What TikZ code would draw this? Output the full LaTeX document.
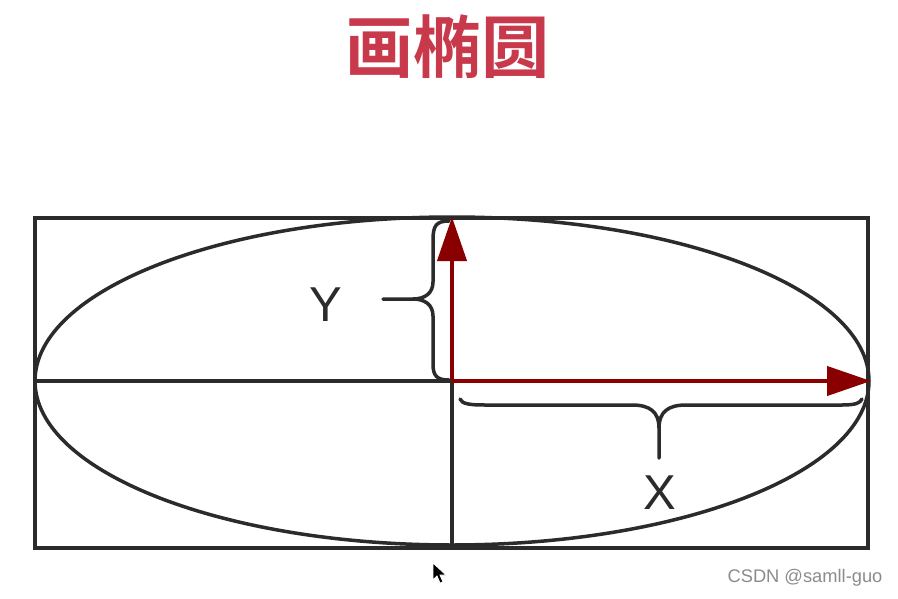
\documentclass[tikz,border=0pt]{standalone}
\usepackage{fontspec}
\setmainfont{Liberation Sans}
\newfontfamily\cjk{Noto Sans CJK SC Bold}
\usetikzlibrary{arrows.meta,positioning}
\definecolor{darkline}{HTML}{2B2B2B}
\definecolor{axisred}{HTML}{8A0000}
\definecolor{titlered}{HTML}{C83A4B}
\definecolor{markgray}{HTML}{8C8C8C}
\begin{document}
\begin{tikzpicture}[x=1pt,y=-1pt,
		frame/.style={darkline,line width=4.2pt},
		curve/.style={darkline,line width=3.5pt},
		brace/.style={darkline,line width=3.5pt,line cap=round},
		axis/.style={axisred,line width=4.2pt,-{Triangle[length=44pt,width=29pt]}},
		letter/.style={darkline,font=\fontsize{49}{49}\selectfont}]
		\useasboundingbox[fill=white] (0,0) rectangle (898,598);
		\node[titlered,font=\cjk\fontsize{68}{68}\selectfont] (title) at (447,47) {画椭圆};
		\coordinate (O) at (452,381);
		\coordinate (top) at (452,217);
		\coordinate (right) at (871,381);
		\coordinate (left) at (35,381);
		\coordinate (bottom) at (452,548);
		\draw[frame] (35,218) rectangle (868,548);
		\draw[curve] (O) ellipse [x radius=417pt, y radius=164pt];
		\draw[frame] (left) -- (O) -- (bottom);
		\draw[axis] (O) -- (top);
		\draw[axis] (O) -- (right);
		\draw[brace] (449,221) .. controls (436,221) and (433,226) .. (433,240) -- (433,282) .. controls (433,293) and (425,299) .. (413,299) -- (383,299);
		\draw[brace] (413,299) .. controls (425,299) and (433,305) .. (433,316) -- (433,364) .. controls (433,376) and (437,380) .. (449,380);
		\draw[brace] (460,399) .. controls (462,404) and (470,405) .. (485,405) -- (632,405) .. controls (650,405) and (659,412) .. (659,428) -- (659,458);
		\draw[brace] (659,428) .. controls (659,412) and (668,405) .. (686,405) -- (842,405) .. controls (856,405) and (860,403) .. (862,399);
		\node[letter] (Y) at (326,305) {Y};
		\node[letter] (X) at (660,493) {X};
		\node[markgray,font=\fontsize{18.3}{18.3}\selectfont] (mark) at (805,578) {CSDN @samll-guo};
		\draw[white,line width=0.8pt,fill=black] (433,563) -- (433,580) -- (437,576) -- (440,583) -- (443,582) -- (440,575) -- (446,575) -- cycle;
	\end{tikzpicture}
\end{document}
